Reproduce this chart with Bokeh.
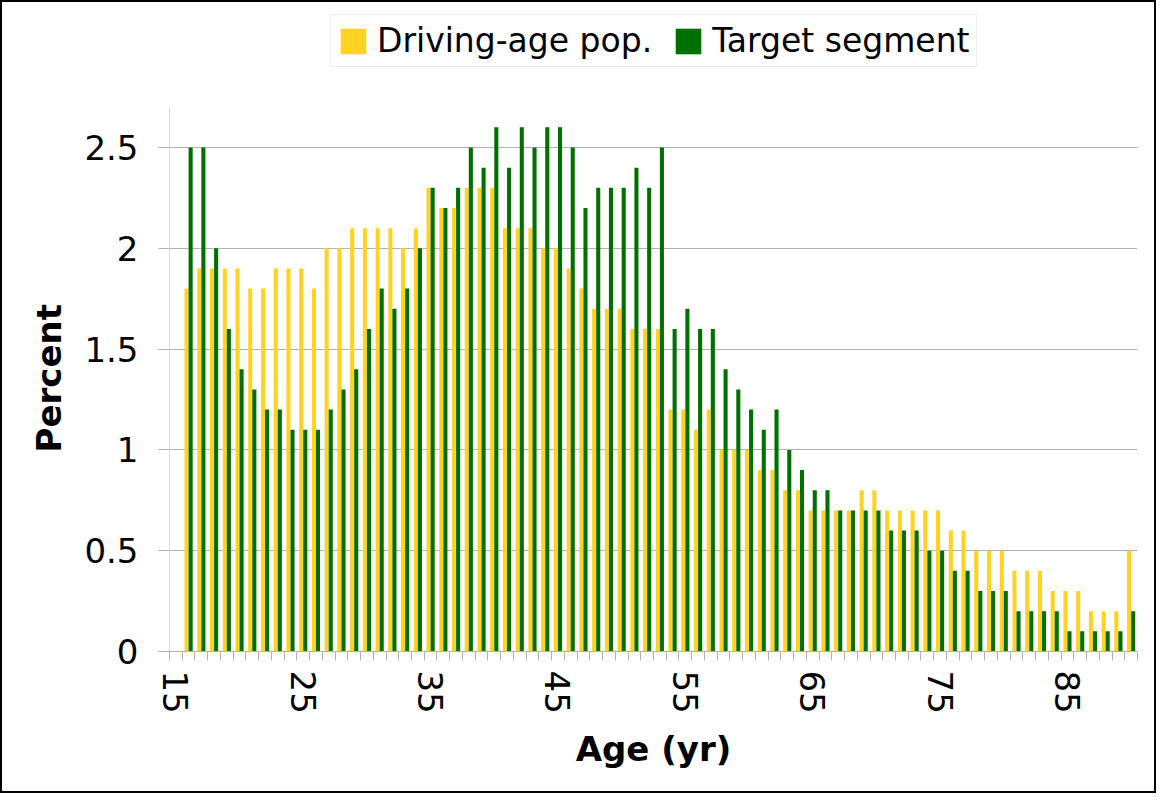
from bokeh.plotting import figure
from bokeh.models import (ColumnDataSource, Range1d, FixedTicker, NumeralTickFormatter,
                          Legend, LegendItem, Title)
from bokeh.transform import dodge
from bokeh.embed import file_html
from bokeh.resources import INLINE

# ---------------- data ----------------
ages = list(range(16, 91))
driving_age_pop = [1.8, 1.9, 1.9, 1.9, 1.9, 1.8, 1.8, 1.9, 1.9, 1.9,
                   1.8, 2.0, 2.0, 2.1, 2.1, 2.1, 2.1, 2.0, 2.1, 2.3,
                   2.2, 2.2, 2.3, 2.3, 2.3, 2.1, 2.1, 2.1, 2.0, 2.0,
                   1.9, 1.8, 1.7, 1.7, 1.7, 1.6, 1.6, 1.6, 1.2, 1.2,
                   1.1, 1.2, 1.0, 1.0, 1.0, 0.9, 0.9, 0.8, 0.8, 0.7,
                   0.7, 0.7, 0.7, 0.8, 0.8, 0.7, 0.7, 0.7, 0.7, 0.7,
                   0.6, 0.6, 0.5, 0.5, 0.5, 0.4, 0.4, 0.4, 0.3, 0.3,
                   0.3, 0.2, 0.2, 0.2, 0.5]
target_segment = [2.5, 2.5, 2.0, 1.6, 1.4, 1.3, 1.2, 1.2, 1.1, 1.1,
                  1.1, 1.2, 1.3, 1.4, 1.6, 1.8, 1.7, 1.8, 2.0, 2.3,
                  2.2, 2.3, 2.5, 2.4, 2.6, 2.4, 2.6, 2.5, 2.6, 2.6,
                  2.5, 2.2, 2.3, 2.3, 2.3, 2.4, 2.3, 2.5, 1.6, 1.7,
                  1.6, 1.6, 1.4, 1.3, 1.2, 1.1, 1.2, 1.0, 0.9, 0.8,
                  0.8, 0.7, 0.7, 0.7, 0.7, 0.6, 0.6, 0.6, 0.5, 0.5,
                  0.4, 0.4, 0.3, 0.3, 0.3, 0.2, 0.2, 0.2, 0.2, 0.1,
                  0.1, 0.1, 0.1, 0.1, 0.2]
age_categories = list(range(15, 91))
x_tick_labels = [15, 25, 35, 45, 55, 65, 75, 85]
y_ticks = [0, 0.5, 1.0, 1.5, 2.0, 2.5]
series_names = ["Driving-age pop.", "Target segment"]

YELLOW = "#ffd320"
GREEN = "#007000"
GRID = "#b3b3b3"
FONT = "DejaVu Sans"

# layout constants (pixels) -- frame extends to top so the legend can sit inside it
FRAME_TOP = 5
FRAME_BOTTOM = 649
PX_PER_UNIT = 201.6
Y_AXIS_TOP = 2.7
y_end = (FRAME_BOTTOM - FRAME_TOP) / PX_PER_UNIT

src = ColumnDataSource(dict(age=ages, pop=driving_age_pop, seg=target_segment))

x_start = age_categories[0] - 0.5
x_end = age_categories[-1] + 0.5

p = figure(width=1156, height=793,
           x_range=Range1d(x_start, x_end),
           y_range=Range1d(0, y_end),
           output_backend="svg", toolbar_location=None,
           min_border_left=167, min_border_right=21,
           min_border_top=FRAME_TOP, min_border_bottom=793 - FRAME_BOTTOM)
p.outline_line_color = None
p.background_fill_color = "white"
p.border_fill_color = "white"
p.styles = {"border": "2px solid black"}

r1 = p.vbar(x=dodge("age", -0.16), top="pop", width=0.32, source=src,
            fill_color=YELLOW, line_color=None)
r2 = p.vbar(x=dodge("age", 0.16), top="seg", width=0.32, source=src,
            fill_color=GREEN, line_color=None)

# x axis
xa = p.xaxis[0]
xa.ticker = FixedTicker(ticks=x_tick_labels,
                        minor_ticks=[a - 0.5 for a in age_categories] + [x_end])
xa.major_tick_out = 0
xa.major_tick_in = 0
xa.minor_tick_out = 9
xa.minor_tick_in = 0
xa.minor_tick_line_color = GRID
xa.axis_line_color = GRID
xa.major_label_orientation = "vertical"
xa.major_label_standoff = 10
xa.major_label_text_font = FONT
xa.major_label_text_font_size = "34px"
xa.major_label_text_color = "black"
xa.axis_label = "Age (yr)"
xa.axis_label_text_font = FONT
xa.axis_label_text_font_size = "34px"
xa.axis_label_text_font_style = "bold"
xa.axis_label_text_color = "black"
xa.axis_label_standoff = 12

# y axis
ya = p.yaxis[0]
ya.ticker = FixedTicker(ticks=y_ticks, minor_ticks=[])
ya.formatter = NumeralTickFormatter(format="0.[0]")
ya.major_tick_out = 11
ya.major_tick_in = 0
ya.major_tick_line_color = GRID
ya.minor_tick_line_color = None
ya.axis_line_color = None
ya.major_label_standoff = 20
ya.major_label_text_font = FONT
ya.major_label_text_font_size = "34px"
ya.major_label_text_color = "black"
# visible part of the y axis line (0 .. 2.7)
p.segment(x0=[x_start], y0=[0], x1=[x_start], y1=[Y_AXIS_TOP],
          line_color=GRID, line_width=1)

# y axis title, centred on the visible 0..2.7 part of the axis
p.add_layout(Title(text="Percent", align="left", offset=199, standoff=26,
                   text_font=FONT, text_font_size="34px", text_font_style="bold",
                   text_color="black"), "left")

p.xgrid.visible = False
p.ygrid.ticker = FixedTicker(ticks=y_ticks)
p.ygrid.grid_line_color = GRID

legend = Legend(items=[LegendItem(label=series_names[0], renderers=[r1]),
                       LegendItem(label=series_names[1], renderers=[r2])],
                orientation="horizontal", location=(161, 584),
                glyph_width=32, glyph_height=32, label_standoff=8, spacing=20,
                padding=6, margin=0,
                label_text_font=FONT, label_text_font_size="33px",
                label_text_color="black",
                border_line_color="#dddddd", border_line_width=1,
                background_fill_color="white", background_fill_alpha=1.0)
p.add_layout(legend)

open("out.html", "w").write(file_html(p, INLINE))
